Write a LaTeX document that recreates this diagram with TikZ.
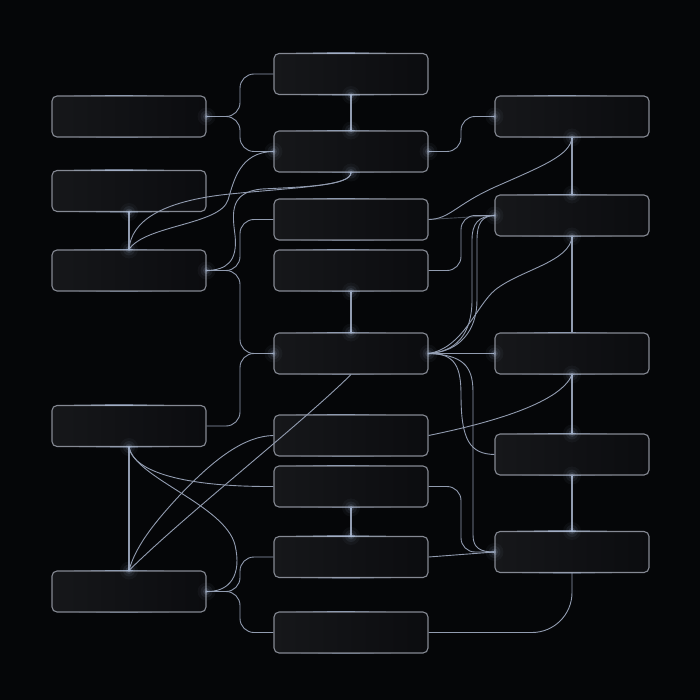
\documentclass[tikz,border=0pt]{standalone}
\usetikzlibrary{calc}
\definecolor{bg}{HTML}{050608}
\definecolor{boxl}{HTML}{16171A}
\definecolor{boxr}{HTML}{0B0C0F}
\definecolor{edgec}{HTML}{858993}
\definecolor{wirec}{HTML}{929CB0}
\definecolor{glowc}{HTML}{BFD3F5}
\tikzset{
  card/.style={draw=edgec, line width=1.1pt, rounded corners=5pt,
    minimum width=154pt, minimum height=41pt, inner sep=0pt,
    left color=boxl, right color=boxr},
  wire/.style={draw=wirec, line width=0.9pt},
  vwire/.style={draw=wirec, line width=1.3pt},
}
\newcommand\sconn[3]{\draw[wire, rounded corners=14pt] (#1) -| (#2 |- #3) -- (#3);}
\newcommand\glowat[1]{\foreach \gr/\go in {9/0.04,6/0.07,3.5/0.12,1.8/0.25}{\fill[glowc, opacity=\go] (#1) circle (\gr pt);}}
\newcommand\edgeglow[1]{%
  \foreach \gw/\go in {45/0.15,28/0.2,14/0.3}{%
    \draw[glowc, line width=1.2pt, opacity=\go] ($(#1.north)+(-10-\gw,0)$) -- ($(#1.north)+(-10+\gw,0)$);
    \draw[glowc, line width=1.2pt, opacity=\go*0.5] ($(#1.south)+(-5-\gw,0)$) -- ($(#1.south)+(-5+\gw,0)$);}}
\begin{document}
\begin{tikzpicture}[x=1pt,y=-1pt]
\fill[bg] (0,0) rectangle (700,700);
\useasboundingbox (0,0) rectangle (700,700);
% coordinates for vertical runs
\coordinate (xL) at (240,0);
\coordinate (xR) at (461,0);
% cards
\node[card] (L1) at (129,116.5) {};
\node[card] (L2) at (129,191) {};
\node[card] (L3) at (129,270.5) {};
\node[card] (L4) at (129,426) {};
\node[card] (L5) at (129,591.5) {};
\node[card] (M1) at (351,74) {};
\node[card] (M2) at (351,151.5) {};
\node[card] (M3) at (351,219.5) {};
\node[card] (M4) at (351,270.5) {};
\node[card] (M5) at (351,353.5) {};
\node[card] (M6) at (351,435.5) {};
\node[card] (M7) at (351,486.5) {};
\node[card] (M8) at (351,557) {};
\node[card] (M9) at (351,632.5) {};
\node[card] (R1) at (572,116.5) {};
\node[card] (R2) at (572,215.5) {};
\node[card] (R3) at (572,353.5) {};
\node[card] (R4) at (572,454.5) {};
\node[card] (R5) at (572,552) {};
\foreach \n in {L1,L2,L3,L4,L5,M1,M2,M3,M4,M5,M6,M7,M8,M9,R1,R2,R3,R4,R5}{\edgeglow{\n}}
% straight vertical links
\draw[vwire] (M1.south) -- (M2.north);
\draw[vwire] (L2.south) -- (L3.north);
\draw[vwire] (M4.south) -- (M5.north);
\draw[vwire] (M7.south) -- (M8.north);
\draw[vwire] (L4.south) -- (L5.north);
\draw[vwire] (R1.south) -- (R2.north);
\draw[vwire] (R2.south) -- (R3.north);
\draw[vwire] (R3.south) -- (R4.north);
\draw[vwire] (R4.south) -- (R5.north);
% left to middle S-curves
\sconn{L1.east}{xL}{M1.west}
\sconn{L1.east}{xL}{M2.west}
\sconn{L3.east}{xL}{M3.west}
\sconn{L3.east}{xL}{M5.west}
\sconn{L4.east}{xL}{M5.west}
\sconn{L5.east}{xL}{M8.west}
\sconn{L5.east}{xL}{M9.west}
% middle to right S-curves
\sconn{M2.east}{xR}{R1.west}
\sconn{M4.east}{xR}{R2.west}
\sconn{M7.east}{xR}{R5.west}
% free curves, left half
\draw[wire] (M2.south) .. controls (351,186) and (300,187) .. (230,194) .. controls (160,201) and (131,222) .. (L3.north);
\draw[wire] (M2.south) .. controls (351,186) and (300,187) .. (262,189) .. controls (230,192) and (232,212) .. (235,235) .. controls (238,262) and (226,270) .. (L3.east);
\draw[wire] (M2.west) .. controls (240,152) and (234,180) .. (228,200) .. controls (220,225) and (145,225) .. (L3.north);
\draw[wire] (L4.south) .. controls (135,478) and (225,505) .. (235,545) .. controls (242,575) and (230,592) .. (L5.east);
\draw[wire] (L4.south) .. controls (133,472) and (185,487) .. (M7.west);
\draw[wire] (M5.south) .. controls (300,425) and (185,515) .. (L5.north);
\draw[wire] (M6.west) .. controls (245,436) and (215,458) .. (180,495) .. controls (152,525) and (135,548) .. (L5.north);
% free curves, right half
\draw[wire] (M3.east) .. controls (450,219) and (455,205) .. (495,187) .. controls (545,165) and (570,155) .. (R1.south);
\draw[wire, opacity=0.45] (M3.east) -- (R2.west);
\draw[wire] (M5.east) .. controls (455,352) and (472,335) .. (472,300) -- (472,240) .. controls (472,224) and (478,216) .. (R2.west);
\draw[wire] (M5.east) .. controls (460,352) and (477,330) .. (477,300) -- (477,240) .. controls (477,223) and (482,216) .. (R2.west);
\draw[wire] (R2.south) .. controls (570,262) and (520,270) .. (495,290) .. controls (476,306) and (463,348) .. (M5.east);
\draw[wire] (M5.east) -- (R3.west);
\draw[wire] (M5.east) .. controls (456,353) and (461,368) .. (461,395) .. controls (461,440) and (470,454) .. (R4.west);
\draw[wire] (M5.east) .. controls (462,355) and (473,365) .. (473,392) -- (473,535) .. controls (473,548) and (480,552) .. (R5.west);
\draw[wire] (M6.east) .. controls (480,425) and (560,405) .. (R3.south);
\draw[wire] (M8.east) -- (R5.west);
\draw[wire, rounded corners=40pt] (M9.east) -| (R5.south);
% glows at junctions
\foreach \p in {L3.north,L5.north,M5.east,M5.west,R2.west,R5.west,L1.east,M2.west,L4.south,L5.east,L3.east,M1.south,M2.north,R1.south,R2.south,R2.north,M4.south,M5.north,M7.south,M8.north,R3.south,R4.north,R4.south,R5.north,M2.east,R1.west,M2.south,L2.south,R3.west}{\glowat{\p}}
\end{tikzpicture}
\end{document}
